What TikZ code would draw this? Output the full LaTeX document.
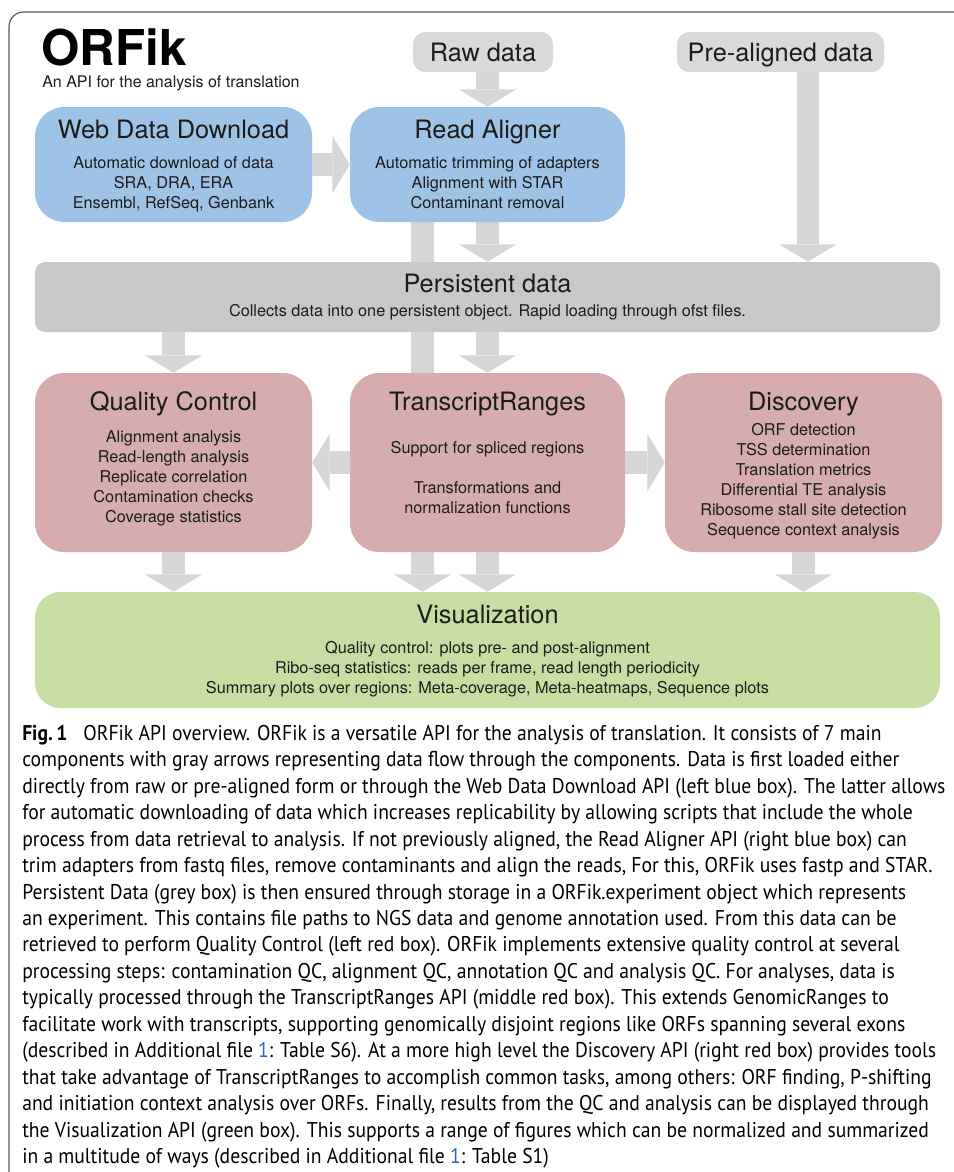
\documentclass[tikz,border=0pt]{standalone}
\usepackage{fontspec}
\setmainfont{TeX Gyre Heros}
\newfontfamily\capfont[FakeStretch=0.92]{PT Sans}
\usetikzlibrary{positioning,arrows.meta,backgrounds}

\definecolor{boxblue}{RGB}{157,195,230}
\definecolor{boxred}{RGB}{214,172,175}
\definecolor{boxgreen}{RGB}{199,221,161}
\definecolor{boxgray}{RGB}{200,200,200}
\definecolor{srcgray}{RGB}{217,217,217}
\definecolor{flowgray}{RGB}{214,214,214}
\definecolor{framegray}{RGB}{90,90,90}
\definecolor{txt}{RGB}{28,28,28}
\definecolor{linkblue}{RGB}{40,100,200}

\tikzset{
	apibox/.style={inner sep=0pt, rounded corners=22pt},
	srcbox/.style={fill=srcgray, rounded corners=9pt, inner sep=0pt, text=txt,
		font=\fontsize{19}{19}\selectfont, text height=13.7pt, text depth=0pt},
	boxtitle/.style={inner sep=0pt, text=txt, font=\fontsize{19}{19}\selectfont},
	boxbody/.style={inner sep=0pt, align=center, text=txt, font=\fontsize{12.2}{15}\selectfont},
	flowarrow/.style={draw=flowgray, line width=17pt,
		-{Triangle[width=43pt,length=13pt,line width=0pt]}},
}

\begin{document}
\begin{tikzpicture}[x=0.75pt,y=-0.75pt]
	\useasboundingbox (0,0) rectangle (954,1172);
	% outer frame
	\draw[framegray, line width=0.9pt, rounded corners=11pt] (954,12) -- (9,12) -- (9,1172);
	%% heading
	\node[inner sep=0pt, anchor=base west, font=\bfseries\fontsize{37}{37}\selectfont] (logo) at (41,65) {ORFik};
	\node[inner sep=0pt, anchor=base west, text=txt, font=\fontsize{12}{12}\selectfont] (sub) at (42,87) {An API for the analysis of translation};
	%% input data
	\node[srcbox, minimum width=105pt, minimum height=30pt] (raw) at (483,52) {Raw data};
	\node[srcbox, minimum width=155.25pt, minimum height=30pt] (pre) at (780.5,52) {Pre-aligned data};
	%% blue boxes
	\node[apibox, fill=boxblue, minimum width=207.75pt, minimum height=86.25pt] (web) at (173.5,164.5) {};
	\node[boxtitle, below=10pt of web.north] (webt) {Web Data Download};
	\node[boxbody, below=37pt of web.north] (webb) {Automatic download of data\\SRA, DRA, ERA\\Ensembl, RefSeq, Genbank};
	\node[apibox, fill=boxblue, minimum width=206.25pt, minimum height=86.25pt] (align) at (487.5,164.5) {};
	\node[boxtitle, below=10pt of align.north] (alignt) {Read Aligner};
	\node[boxbody, below=37pt of align.north] (alignb) {Automatic trimming of adapters\\Alignment with STAR\\Contaminant removal};
	%% grey box
	\node[apibox, fill=boxgray, rounded corners=7.5pt, minimum width=678.75pt, minimum height=52.5pt] (persist) at (487.5,297) {};
	\node[boxtitle, below=9pt of persist.north] (persistt) {Persistent data};
	\node[boxbody, below=32pt of persist.north] (persistb) {Collects data into one persistent object. Rapid loading through ofst files.};
	%% red boxes
	\node[apibox, fill=boxred, minimum width=207.75pt, minimum height=134.25pt] (qc) at (173.5,462.5) {};
	\node[boxtitle, below=14pt of qc.north] (qct) {Quality Control};
	\node[boxbody, below=43.5pt of qc.north] (qcb) {Alignment analysis\\Read-length analysis\\Replicate correlation\\Contamination checks\\Coverage statistics};
	\node[apibox, fill=boxred, minimum width=206.25pt, minimum height=134.25pt] (tr) at (487.5,462.5) {};
	\node[boxtitle, below=14pt of tr.north] (trt) {TranscriptRanges};
	\node[boxbody, below=51pt of tr.north] (trb) {Support for spliced regions\\[15pt]Transformations and\\normalization functions};
	\node[apibox, fill=boxred, minimum width=207.75pt, minimum height=134.25pt] (disc) at (803.5,462.5) {};
	\node[boxtitle, below=14pt of disc.north] (disct) {Discovery};
	\node[boxbody, below=37.5pt of disc.north] (discb) {ORF detection\\TSS determination\\Translation metrics\\Differential TE analysis\\Ribosome stall site detection\\Sequence context analysis};
	%% green box
	\node[apibox, fill=boxgreen, rounded corners=19pt, minimum width=678.75pt, minimum height=87pt] (vis) at (487.5,650) {};
	\node[boxtitle, below=10pt of vis.north] (vist) {Visualization};
	\node[boxbody, below=37pt of vis.north] (visb) {Quality control: plots pre- and post-alignment\\Ribo-seq statistics: reads per frame, read length periodicity\\Summary plots over regions: Meta-coverage, Meta-heatmaps, Sequence plots};
	% arrow columns
	\coordinate (bypass) at ([xshift=-48.75pt]align.south);
	\coordinate (prein) at ([xshift=20.6pt]pre.south);
	%% data flow
	\begin{scope}[on background layer]
		\draw[flowarrow] (raw.south -| align.north) -- (align.north);
		\draw[flowarrow] (web.east) -- (align.west);
		\draw[flowarrow] (align.south) -- (align.south |- persist.north);
		\draw[flowarrow] (prein) -- (prein |- persist.north);
		\draw[flowarrow] (bypass) -- (bypass |- vis.north); % straight to visualization
		\draw[flowarrow] (persist.south -| qc.north) -- (qc.north);
		\draw[flowarrow] (persist.south -| tr.north) -- (tr.north);
		\draw[flowarrow] (tr.west) -- (qc.east);
		\draw[flowarrow] (tr.east) -- (disc.west);
		\draw[flowarrow] (qc.south) -- (qc.south |- vis.north);
		\draw[flowarrow] (tr.south) -- (tr.south |- vis.north);
		\draw[flowarrow] (disc.south) -- (disc.south |- vis.north);
	\end{scope}
	%% caption
	\node[inner sep=0pt, anchor=north west, align=left, font=\capfont\fontsize{16}{19.83}\selectfont] (cap) at (22,725) {%
		\textbf{Fig.\,1}\hspace{0.5em} ORFik API overview. ORFik is a versatile API for the analysis of translation. It consists of 7 main\\
		components with gray arrows representing data flow through the components. Data is first loaded either\\
		directly from raw or pre-aligned form or through the Web Data Download API (left blue box). The latter allows\\
		for automatic downloading of data which increases replicability by allowing scripts that include the whole\\
		process from data retrieval to analysis. If not previously aligned, the Read Aligner API (right blue box) can\\
		trim adapters from fastq files, remove contaminants and align the reads, For this, ORFik uses fastp and STAR.\\
		Persistent Data (grey box) is then ensured through storage in a ORFik.experiment object which represents\\
		an experiment. This contains file paths to NGS data and genome annotation used. From this data can be\\
		retrieved to perform Quality Control (left red box). ORFik implements extensive quality control at several\\
		processing steps: contamination QC, alignment QC, annotation QC and analysis QC. For analyses, data is\\
		typically processed through the TranscriptRanges API (middle red box). This extends GenomicRanges to\\
		facilitate work with transcripts, supporting genomically disjoint regions like ORFs spanning several exons\\
		(described in Additional file \textcolor{linkblue}{1}: Table S6). At a more high level the Discovery API (right red box) provides tools\\
		that take advantage of TranscriptRanges to accomplish common tasks, among others: ORF finding, P-shifting\\
		and initiation context analysis over ORFs. Finally, results from the QC and analysis can be displayed through\\
		the Visualization API (green box). This supports a range of figures which can be normalized and summarized\\
		in a multitude of ways (described in Additional file \textcolor{linkblue}{1}: Table S1)};
\end{tikzpicture}
\end{document}
